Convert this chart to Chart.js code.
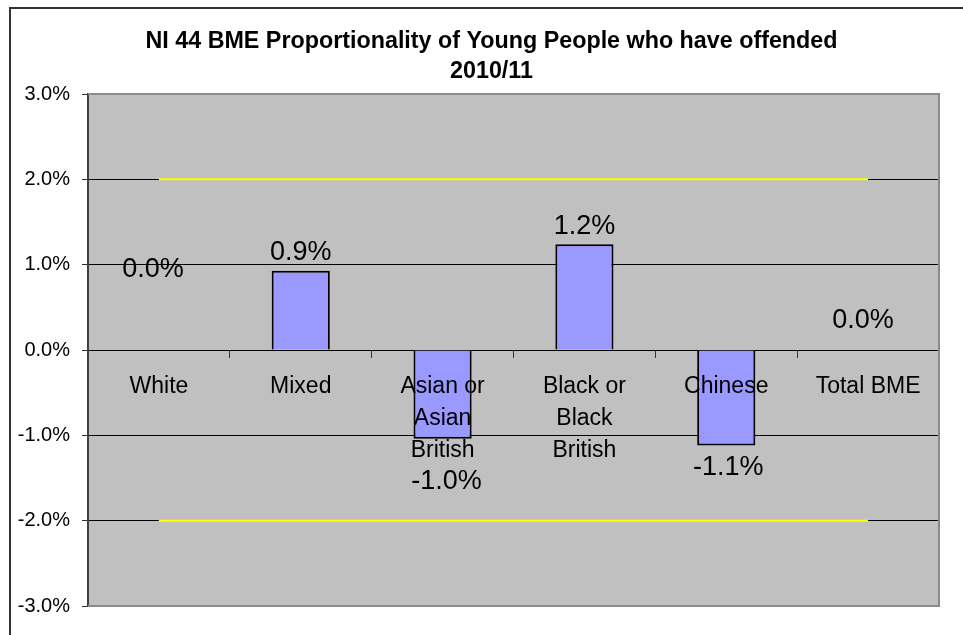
<!DOCTYPE html>
<html lang="en">
<head>
<meta charset="UTF-8">
<title>NI 44 BME Proportionality 2010/11</title>
<script src="https://cdn.jsdelivr.net/npm/chart.js@4"></script>
<style>
  html, body { margin: 0; padding: 0; background: #fff; overflow: hidden; }
  .frame {
    position: absolute; left: 9px; top: 7px;
    width: 1000px; height: 700px;
    border-top: 2px solid #333; border-left: 2px solid #333;
  }
  .wrap { position: absolute; left: 0; top: 0; width: 983px; height: 635px; }
</style>
</head>
<body>
<div class="frame"></div>
<div class="wrap"><canvas id="chart" width="983" height="635"></canvas></div>

<script>
// ethnic groups and their proportionality (% points)
const categories = ['White', 'Mixed', ['Asian or', 'Asian', 'British'], ['Black or', 'Black', 'British'], 'Chinese', 'Total BME'];
const proportionality = [0.0, 0.93, -1.04, 1.24, -1.12, 0.0];
// tolerance band
const upperLimit = [2, 2, 2, 2, 2, 2];
const lowerLimit = [-2, -2, -2, -2, -2, -2];
const yMin = -3, yMax = 3, yStep = 1;

// nudges for the value labels [dx, dy] in px
const labelNudge = [[-6, -62], [0, 0], [4, 21], [0, 0], [2, 0], [-5, -11]];

const FONT = '"Liberation Sans", Arial, sans-serif';

const plotArea = {
  id: 'plotArea',
  beforeDraw(chart) {
    const { ctx, chartArea: a } = chart;
    ctx.save();
    ctx.fillStyle = '#C0C0C0';
    ctx.fillRect(a.left, a.top, a.width, a.height);
    ctx.restore();
  },
  beforeDatasetsDraw(chart) {
    const { ctx, chartArea: a } = chart;
    ctx.save();
    ctx.strokeStyle = '#8a8a8a';
    ctx.lineWidth = 2;
    ctx.beginPath();
    ctx.moveTo(a.left, a.top);
    ctx.lineTo(a.right, a.top);
    ctx.lineTo(a.right, a.bottom);
    ctx.lineTo(a.left, a.bottom);
    ctx.stroke();
    ctx.restore();
  }
};

const barLabels = {
  id: 'barLabels',
  afterDatasetsDraw(chart) {
    const ctx = chart.ctx;
    const meta = chart.getDatasetMeta(0);
    ctx.save();
    ctx.font = '27px ' + FONT;
    ctx.fillStyle = '#000';
    ctx.textAlign = 'center';
    ctx.textBaseline = 'middle';
    meta.data.forEach((bar, i) => {
      const v = proportionality[i];
      const y = v < 0 ? bar.y + 22 : bar.y - 18;
      ctx.fillText(v.toFixed(1) + '%', bar.x + labelNudge[i][0], y + labelNudge[i][1]);
    });
    ctx.restore();
  }
};

new Chart(document.getElementById('chart'), {
  type: 'bar',
  data: {
    labels: categories,
    datasets: [
      {
        data: proportionality,
        backgroundColor: '#9999FF',
        borderColor: '#000',
        borderWidth: 2,
        barPercentage: 0.41,
        categoryPercentage: 1
      },
      {
        type: 'line',
        data: upperLimit,
        borderColor: '#FFFF00',
        borderWidth: 2,
        pointRadius: 0,
        fill: false
      },
      {
        type: 'line',
        data: lowerLimit,
        borderColor: '#FFFF00',
        borderWidth: 2,
        pointRadius: 0,
        fill: false
      }
    ]
  },
  options: {
    responsive: false,
    animation: false,
    devicePixelRatio: 1,
    layout: { padding: { top: 0, left: 0, right: 0, bottom: 29 } },
    plugins: {
      legend: { display: false },
      tooltip: { enabled: false },
      title: {
        display: true,
        text: ['NI 44 BME Proportionality of Young People who have offended', '2010/11'],
        color: '#000',
        font: { family: FONT, size: 23.3, weight: 'bold', lineHeight: 30 / 23.3 },
        padding: { top: 27, bottom: 7 }
      }
    },
    scales: {
      x: {
        position: { y: 0 },
        grid: { display: true, drawOnChartArea: false, drawTicks: true, tickLength: 7, offset: true, color: '#333' },
        border: { display: true, color: '#000', width: 1 },
        ticks: {
          z: 1,
          color: '#000',
          autoSkip: false,
          maxRotation: 0,
          padding: 14,
          font: { family: FONT, size: 23, lineHeight: 32 / 23 }
        }
      },
      y: {
        min: yMin,
        max: yMax,
        afterFit(scale) { scale.width = 88; },
        grid: { color: '#000', lineWidth: 1, tickLength: 6, tickColor: '#333' },
        border: { display: true, color: '#404040', width: 2 },
        ticks: {
          stepSize: yStep,
          color: '#000',
          padding: 12,
          font: { family: FONT, size: 20 },
          callback: v => v.toFixed(1) + '%'
        }
      },
      // empty right-hand strip so the title centres over the whole chart object
      yRight: {
        type: 'linear',
        position: 'right',
        min: yMin,
        max: yMax,
        afterFit(scale) { scale.width = 44; },
        grid: { display: false },
        border: { display: false },
        ticks: { display: false }
      }
    }
  },
  plugins: [plotArea, barLabels]
});
</script>
</body>
</html>
